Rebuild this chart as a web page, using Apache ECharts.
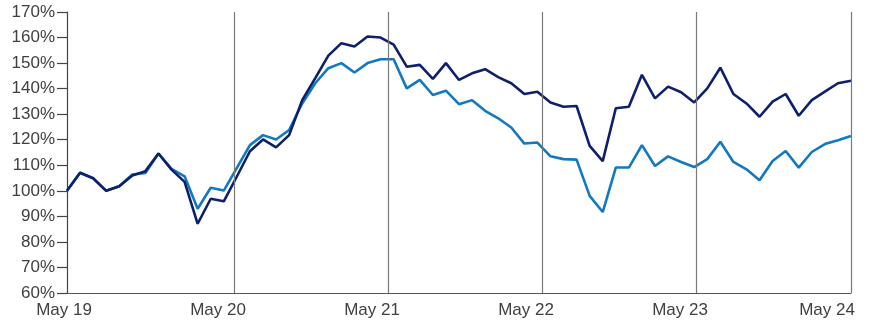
<!DOCTYPE html>
<html>
<head>
<meta charset="utf-8">
<script src="https://cdn.jsdelivr.net/npm/echarts@6/dist/echarts.min.js"></script>
<style>
html,body{margin:0;padding:0;background:#fff;}
#c{width:870px;height:323px;}
</style>
</head>
<body>
<div id="c"></div>
<script>
// Monthly index values (start = 100%)
const darkSeries = [100.0,107.1,104.9,100.0,101.8,106.0,107.7,114.6,108.3,103.5,87.1,96.9,95.9,105.6,115.5,120.1,117.0,121.8,135.5,144.1,152.9,157.8,156.5,160.4,160.0,157.2,148.6,149.3,143.8,150.0,143.4,146.0,147.6,144.5,142.1,137.9,138.8,134.6,132.9,133.2,117.6,111.6,132.3,132.9,145.4,136.2,140.8,138.6,134.6,140.1,148.2,137.9,134.2,129.0,134.9,137.9,129.4,135.5,138.8,142.1,143.1];
const lightSeries = [100.0,107.1,104.9,100.0,101.8,106.4,107.0,114.6,108.6,105.7,93.0,101.2,100.1,109.0,117.9,121.8,120.1,123.8,134.2,142.1,148.0,150.0,146.3,150.0,151.5,151.5,140.1,143.4,137.5,139.2,133.9,135.5,131.3,128.4,124.8,118.5,118.9,113.5,112.4,112.2,98.0,91.7,109.1,109.1,117.9,109.7,113.5,111.3,109.3,112.4,119.2,111.3,108.4,104.1,111.7,115.6,109.1,115.2,118.3,119.8,121.5];
// x-axis labels and their positions (in years from the first label)
const xLabels = ['May 19','May 20','May 21','May 22','May 23','May 24'];
const xLabelPos = [0, 1, 2, 3, 4, 4.955];
// vertical year gridlines (in months from the first point)
const yearLines = [12.79, 24.61, 36.40, 48.19, 60];
// y axis
const yMin = 60, yMax = 170, yStep = 10;

const toPairs = arr => arr.map((v, i) => [i, v]);
const textColor = '#404040';
const fontFamily = '"Liberation Sans", Arial, sans-serif';

const chart = echarts.init(document.getElementById('c'), null, {renderer: 'canvas'});
chart.setOption({
  animation: false,
  backgroundColor: '#ffffff',
  grid: [
    {left: 67, right: 19, top: 12, bottom: 30},
    {left: 64, right: 36, top: 292, bottom: 30}
  ],
  xAxis: [
    {
      type: 'value', gridIndex: 0, min: 0, max: darkSeries.length - 1,
      axisLine: {show: true, lineStyle: {color: '#555', width: 1.2}},
      axisTick: {show: false}, axisLabel: {show: false}, splitLine: {show: false}
    },
    {
      type: 'value', gridIndex: 1, min: 0, max: 5,
      axisLine: {show: false}, axisTick: {show: false}, splitLine: {show: false},
      axisLabel: {
        show: true, customValues: xLabelPos, margin: 9,
        showMinLabel: true, showMaxLabel: true, hideOverlap: false,
        color: textColor, fontSize: 17, fontFamily: fontFamily,
        formatter: function (v) {
          let best = 0;
          for (let k = 0; k < xLabelPos.length; k++) {
            if (Math.abs(xLabelPos[k] - v) < Math.abs(xLabelPos[best] - v)) best = k;
          }
          return xLabels[best];
        }
      }
    }
  ],
  yAxis: [
    {
      type: 'value', gridIndex: 0, min: yMin, max: yMax, interval: yStep,
      axisLine: {show: true, lineStyle: {color: '#444', width: 1.2}},
      axisTick: {show: true, length: 10, lineStyle: {color: '#444', width: 1.2}},
      axisLabel: {
        formatter: '{value}%', color: textColor, fontSize: 17, fontFamily: fontFamily, margin: 12
      },
      splitLine: {show: false}
    },
    {
      type: 'value', gridIndex: 1, show: false
    }
  ],
  series: [
    {
      type: 'line', xAxisIndex: 0, yAxisIndex: 0,
      data: toPairs(lightSeries), symbol: 'none', z: 3,
      lineStyle: {color: '#1379bf', width: 2.6},
      markLine: {
        silent: true, symbol: 'none', label: {show: false},
        lineStyle: {color: '#7a7a7a', type: 'solid', width: 1.2},
        data: yearLines.map(x => ({xAxis: x}))
      }
    },
    {
      type: 'line', xAxisIndex: 0, yAxisIndex: 0,
      data: toPairs(darkSeries), symbol: 'none', z: 4,
      lineStyle: {color: '#0e1f6c', width: 2.6}
    }
  ]
});
</script>
</body>
</html>
